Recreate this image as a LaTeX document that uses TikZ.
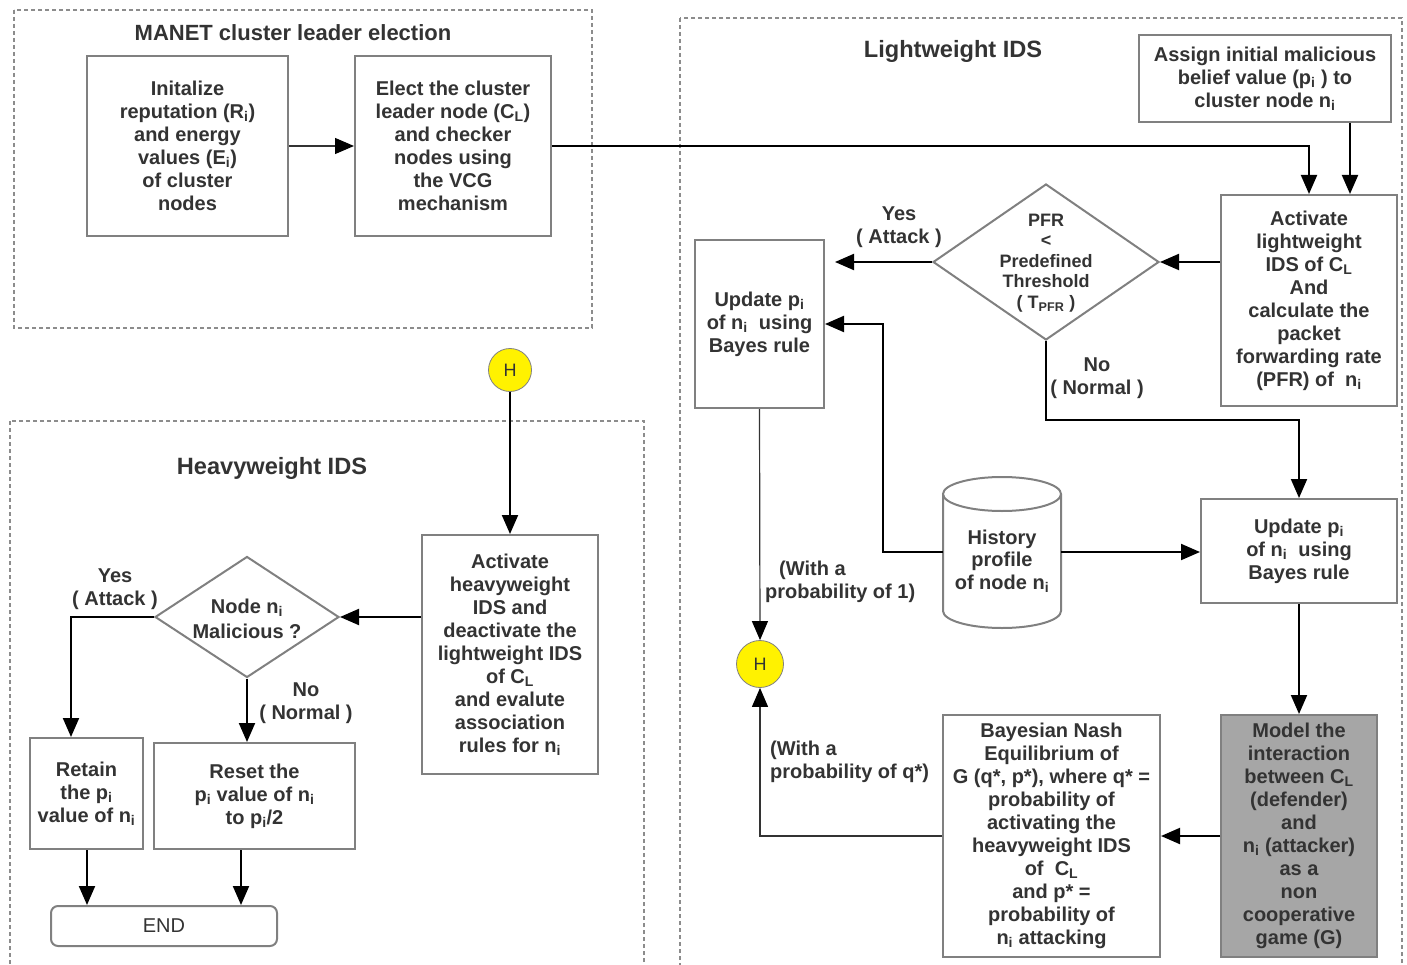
\documentclass[tikz,border=0pt]{standalone}
\usepackage{fontspec}
\setmainfont{Liberation Sans}
\usetikzlibrary{arrows.meta,shapes.geometric}
\definecolor{txt}{HTML}{333333}
\definecolor{bord}{HTML}{808080}
\definecolor{dashc}{HTML}{8C8C8C}
\definecolor{modelfill}{HTML}{A6A6A6}
\newcommand{\ssb}[1]{\textsubscript{#1}}
\begin{document}
\begin{tikzpicture}[x=1pt,y=-1pt,
  box/.style={draw=bord,line width=2pt,fill=white,inner sep=0pt,align=center,text=txt,font=\bfseries\fontsize{20}{23}\selectfont},
  region/.style={draw=dashc,line width=1.5pt,dash pattern=on 4pt off 3pt},
  titletext/.style={text=txt,inner sep=0pt,font=\bfseries\fontsize{22}{26}\selectfont},
  bigtitle/.style={text=txt,inner sep=0pt,font=\bfseries\fontsize{23.6}{28}\selectfont},
  lbl/.style={text=txt,inner sep=0pt,font=\bfseries\fontsize{20}{22.5}\selectfont,align=center},
  arr/.style={line width=2pt,draw=black,-{Triangle[length=19pt,width=16pt]}},
  thinarr/.style={line width=1.2pt,draw=black!80,-{Triangle[length=19pt,width=16pt,color=black]}},
  dia/.style={diamond,draw=bord,line width=2pt,fill=white,inner sep=0pt},
  diatext/.style={text=txt,inner sep=0pt,align=center},
  hcirc/.style={circle,draw=bord,line width=0.8pt,fill=yellow,inner sep=0pt,text=txt,font=\fontsize{18}{20}\selectfont},
]
\useasboundingbox (0,0) rectangle (1407,965);

% regions
\draw[region] (14,10) rectangle (592,328);
\draw[region] (680,18) rectangle (1402,980);
\draw[region] (10,421) rectangle (644,980);

\node[titletext] (t1) at (293,33) {MANET cluster leader election};
\node[bigtitle] (t2) at (953,51) {Lightweight IDS};
\node[bigtitle] (t3) at (272,468) {Heavyweight IDS};

% MANET boxes
\node[box,minimum width=201pt,minimum height=180pt] (init) at (187.5,146)
  {Initalize\\reputation (R\ssb{i})\\and energy\\values (E\ssb{i})\\of cluster\\nodes};
\node[box,minimum width=196pt,minimum height=180pt] (elect) at (453,146)
  {Elect the cluster\\leader node (C\ssb{L})\\and checker\\nodes using\\the VCG\\mechanism};

% Lightweight IDS
\node[box,minimum width=252pt,minimum height=87pt] (assign) at (1265,78.5)
  {Assign initial malicious\\belief value (p\ssb{i} ) to\\cluster node n\ssb{i}};
\node[box,minimum width=176pt,minimum height=211pt] (actL) at (1309,300.5)
  {Activate\\lightweight\\IDS of C\ssb{L}\\And\\calculate the\\packet\\forwarding rate\\(PFR) of~ n\ssb{i}};
\node[dia,minimum width=226pt,minimum height=156pt] (pfr) at (1046,262) {};
\node[diatext,font=\bfseries\fontsize{18}{20.5}\selectfont] (pfrtxt) at (1046,263)
  {PFR\\<\\Predefined\\Threshold\\( T\ssb{PFR} )};
\node[box,minimum width=129pt,minimum height=168pt] (upd1) at (759.5,324)
  {Update p\ssb{i}\\of n\ssb{i}~ using\\Bayes rule};
\node[box,minimum width=196pt,minimum height=104pt] (upd2) at (1299,551)
  {Update p\ssb{i}\\of n\ssb{i}~ using\\Bayes rule};
\node[box,fill=modelfill,minimum width=156pt,minimum height=242pt] (model) at (1299,836)
  {Model the\\interaction\\between C\ssb{L}\\(defender)\\and\\n\ssb{i} (attacker)\\as a\\non\\cooperative\\game (G)};
\node[box,minimum width=217pt,minimum height=242pt] (bayes) at (1051.5,836)
  {Bayesian Nash\\Equilibrium of\\G (q*, p*), where q* =\\probability of\\activating the\\heavyweight IDS\\of~ C\ssb{L}\\and p* =\\probability of\\n\ssb{i} attacking};

% history cylinder
\draw[draw=bord,line width=2pt,fill=white] (943,494) -- (943,611)
  arc[start angle=180,end angle=360,x radius=59pt,y radius=17pt] -- (1061,494);
\draw[draw=bord,line width=2pt,fill=white] (1002,494) ellipse[x radius=59pt,y radius=17pt];
\node[inner sep=0pt,minimum width=118pt,minimum height=134pt] (hist) at (1002,552) {};
\node[lbl] (histtxt) at (1002,561) {History\\profile\\of node n\ssb{i}};

\node[hcirc,minimum size=47pt] (h1) at (760,664) {H};

% Heavyweight IDS
\node[hcirc,minimum size=43pt] (h2) at (510,370) {H};
\node[box,minimum width=176pt,minimum height=239pt] (actH) at (510,654.5)
  {Activate\\heavyweight\\IDS and\\deactivate the\\lightweight IDS\\of C\ssb{L}\\and evalute\\association\\rules for n\ssb{i}};
\node[dia,minimum width=184pt,minimum height=121pt] (nm) at (247,617) {};
\node[diatext,font=\bfseries\fontsize{20}{25}\selectfont] (nmtxt) at (247,619) {Node n\ssb{i}\\Malicious ?};
\node[box,minimum width=113pt,minimum height=111pt] (retain) at (86.5,793.5)
  {Retain\\the p\ssb{i}\\value of n\ssb{i}};
\node[box,minimum width=201pt,minimum height=106pt] (reset) at (254.5,796)
  {Reset the\\p\ssb{i} value of n\ssb{i}\\to p\ssb{i}/2};
\node[box,font=\fontsize{20}{23}\selectfont,rounded corners=7pt,minimum width=226pt,minimum height=40pt] (endn) at (164,926) {END};

% labels
\node[lbl] (yes1) at (899,227) {Yes\\( Attack )};
\node[lbl] (no1) at (1097,378) {No\\( Normal )};
\node[lbl,align=left,anchor=west] (p1) at (765,582) {\hspace*{14pt}(With a\\probability of 1)};
\node[lbl,align=left,anchor=west] (pq) at (770,762) {(With a\\probability of q*)};
\node[lbl] (yes2) at (115,589) {Yes\\( Attack )};
\node[lbl] (no2) at (306,703) {No\\( Normal )};

% connectors
\draw[thinarr] (init.east) -- (elect.west);
\draw[arr] (elect.east) -| (actL.north);
\draw[arr] ([xshift=85pt]assign.south) -- ([xshift=41pt]actL.north);
\draw[arr] (actL.west |- pfr.east) -- (pfr.east);
\coordinate (yesend) at (835,262);
\draw[arr] (pfr.west) -- (yesend);
\coordinate (nobend) at (1299,420);
\draw[arr] (pfr.south) |- (nobend) -- (upd2.north);
\coordinate (histbend) at (883,324);
\draw[arr] (hist.west) -| (histbend) -- (upd1.east);
\draw[arr] (hist.east) -- (upd2.west |- hist.east);
\draw[arr] (upd2.south) -- (model.north);
\draw[arr] (model.west) -- (bayes.east);
\draw[thinarr] (bayes.west) -| (h1.south);
\draw[thinarr] (upd1.south) -- (h1.north);
\draw[arr] (h2.south) -- (actH.north);
\draw[arr] (actH.west |- nm.east) -- (nm.east);
\draw[arr] (nm.west) -| ([xshift=-15.5pt]retain.north);
\draw[arr] (nm.south) -- (nm.south |- reset.north);
\draw[arr] ([xshift=0.5pt]retain.south) -- ([xshift=0.5pt]retain.south |- endn.north);
\draw[arr] ([xshift=-13.5pt]reset.south) -- ([xshift=-13.5pt]reset.south |- endn.north);
\end{tikzpicture}
\end{document}
